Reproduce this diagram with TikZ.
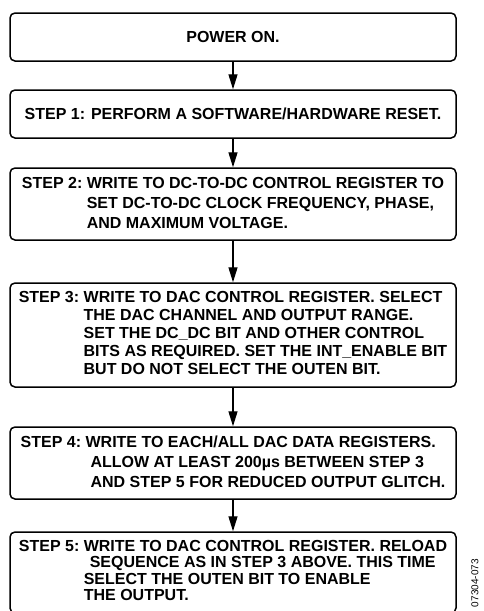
\documentclass[tikz,border=0pt]{standalone}
\usepackage{fontspec}
\setmainfont{Liberation Sans}
\usetikzlibrary{arrows.meta}
\tikzset{
  stepbox/.style={draw, line width=1.5pt, rounded corners=5pt, minimum width=446pt,
    inner sep=0pt, font=\bfseries\fontsize{16}{#1}\selectfont, align=center},
  stepbox/.default=19,
  flow/.style={-{Triangle[length=15pt,width=9pt]}, line width=1.4pt},
}
\begin{document}
\begin{tikzpicture}[x=1pt,y=-1pt]
  \clip (0,0) rectangle (484,611);
  \useasboundingbox (0,0) rectangle (484,611);

  \node[stepbox, minimum height=48pt] (power) at (233,37) {POWER ON.};
  \node[stepbox, minimum height=48pt] (reset) at (233,114)
    {STEP 1: PERFORM A SOFTWARE/HARDWARE RESET.};
  \node[stepbox=20, minimum height=72pt] (dcdc) at (233,204)
    {\begin{tabular}{@{}l@{\ }l@{}}
      STEP 2: & WRITE TO DC-TO-DC CONTROL REGISTER TO\\
              & SET DC-TO-DC CLOCK FREQUENCY, PHASE,\\
              & AND MAXIMUM VOLTAGE.
     \end{tabular}};
  \node[stepbox=18, minimum height=104pt] (dacctrl) at (233,335)
    {\begin{tabular}{@{}l@{\ }l@{}}
      STEP 3: & WRITE TO DAC CONTROL REGISTER. SELECT\\
              & THE DAC CHANNEL AND OUTPUT RANGE.\\
              & SET THE DC\_DC BIT AND OTHER CONTROL\\
              & BITS AS REQUIRED. SET THE INT\_ENABLE BIT\\
              & BUT DO NOT SELECT THE OUTEN BIT.
     \end{tabular}};
  \node[stepbox=20, minimum height=72pt] (dacdata) at (233,463)
    {\begin{tabular}{@{}l@{\ }l@{}}
      STEP 4: & WRITE TO EACH/ALL DAC DATA REGISTERS.\\
              & \hspace*{5pt}ALLOW AT LEAST 200µs BETWEEN STEP 3\\
              & \hspace*{5pt}AND STEP 5 FOR REDUCED OUTPUT GLITCH.
     \end{tabular}};
  \node[stepbox=16.5, minimum height=81pt] (reload) at (233,572.5)
    {\begin{tabular}{@{}l@{\ }l@{}}
      STEP 5: & WRITE TO DAC CONTROL REGISTER. RELOAD\\
              & \hspace*{6pt}SEQUENCE AS IN STEP 3 ABOVE. THIS TIME\\
              & SELECT THE OUTEN BIT TO ENABLE\\
              & THE OUTPUT.
     \end{tabular}};

  % connectors
  \draw[flow] (power) -- (reset);
  \draw[flow] (reset) -- (dcdc);
  \draw[flow] (dcdc) -- (dacctrl);
  \draw[flow] (dacctrl) -- (dacdata);
  \draw[flow] (dacdata) -- (reload);

  \node[rotate=90, anchor=east, inner sep=0pt, font=\fontsize{10}{10}\selectfont]
    (figno) at (475,559) {07304-073};
\end{tikzpicture}
\end{document}
